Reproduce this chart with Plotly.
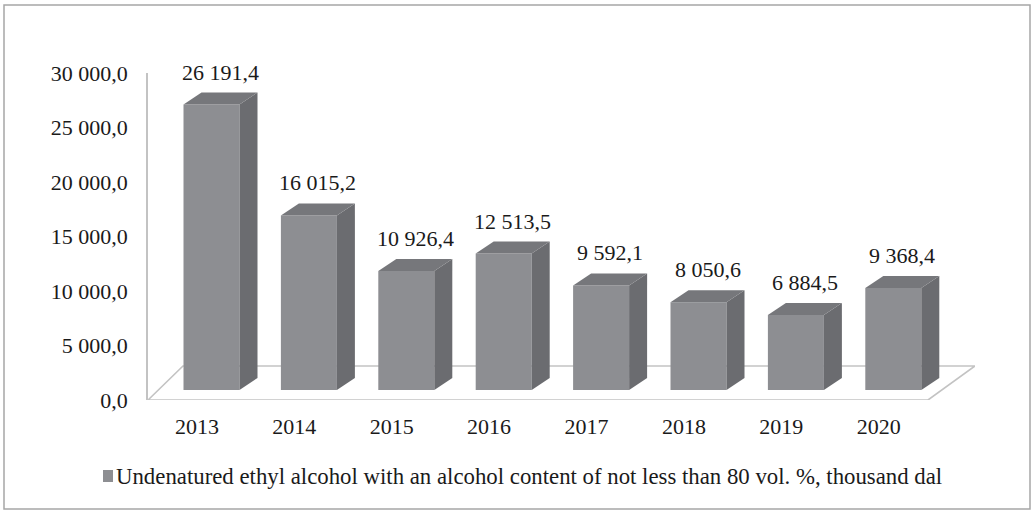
import plotly.graph_objects as go

# ---- data ----
years = ["2013", "2014", "2015", "2016", "2017", "2018", "2019", "2020"]
values = [26191.4, 16015.2, 10926.4, 12513.5, 9592.1, 8050.6, 6884.5, 9368.4]
value_labels = ["26 191,4", "16 015,2", "10 926,4", "12 513,5",
                "9 592,1", "8 050,6", "6 884,5", "9 368,4"]
y_ticks = [0, 5000, 10000, 15000, 20000, 25000, 30000]
y_tick_labels = ["0,0", "5 000,0", "10 000,0", "15 000,0",
                 "20 000,0", "25 000,0", "30 000,0"]
series_name = ("Undenatured ethyl alcohol with an alcohol content of "
               "not less than 80 vol. %, thousand dal")

# ---- layout geometry (pixels) ----
W, H = 1032, 510
L, R, T, B = 148, 57, 73, 110           # plot area: x 148..975, y 73..400
plot_h = H - T - B
pitch = 97.4                             # px between category centres
first_center = 211.5                     # px of first bar front centre
bar_w_px = 56
depth_dx_px, depth_dy_px = 18, 12        # 3-D depth offset of each bar
floor_back_px = 34                       # floor depth (vertical)
floor_left_dx, floor_right_dx = 35, 47
bar_floor_lift_px = 10                   # bars stand behind the front edge

FONT = "Liberation Serif"
FS = 22
TXT = "#1a1a1a"
FRONT, SIDE, TOP = "#8d8e92", "#6b6c70", "#76777b"
FLOOR = "#c3c3c3"

ymax = 30000
s = ymax / plot_h                        # value units per pixel
xmin = (L - first_center) / pitch
xmax = (W - R - first_center) / pitch
bw = bar_w_px / pitch
dx = depth_dx_px / pitch
dy = depth_dy_px * s
y2_lo = -bar_floor_lift_px * s

idx = list(range(len(years)))

fig = go.Figure()
fig.add_trace(go.Bar(
    x=idx, y=values, width=bw, yaxis="y2",
    marker=dict(color=FRONT, line=dict(width=0)),
    name=series_name, showlegend=False, hoverinfo="skip",
))

shapes = []
# floor parallelogram (outline only)
fb = floor_back_px * s
x_fl = xmin
x_fr = xmax - floor_right_dx / pitch
shapes.append(dict(
    type="path", xref="x", yref="y", layer="below",
    path=(f"M{x_fl},0 L{x_fr},0 L{xmax},{fb} "
          f"L{xmin + floor_left_dx / pitch},{fb} Z"),
    line=dict(color=FLOOR, width=1.6), fillcolor="rgba(0,0,0,0)",
))

# side and top faces of each bar
for i, v in zip(idx, values):
    xl, xr = i - bw / 2, i + bw / 2
    shapes.append(dict(
        type="path", xref="x", yref="y2", layer="above",
        path=f"M{xr},0 L{xr + dx},{dy} L{xr + dx},{v + dy} L{xr},{v} Z",
        fillcolor=SIDE, line=dict(width=0),
    ))
    shapes.append(dict(
        type="path", xref="x", yref="y2", layer="above",
        path=f"M{xl},{v} L{xl + dx},{v + dy} L{xr + dx},{v + dy} L{xr},{v} Z",
        fillcolor=TOP, line=dict(width=0),
    ))


def px_to_paper_x(px):
    return (px - L) / (W - L - R)


def px_to_paper_y(py):
    return (H - B - py) / plot_h


# outer frame
shapes.append(dict(
    type="rect", xref="paper", yref="paper",
    x0=px_to_paper_x(4), x1=px_to_paper_x(1030),
    y0=px_to_paper_y(509), y1=px_to_paper_y(5),
    line=dict(color="#a6a6a6", width=1.5), fillcolor="rgba(0,0,0,0)",
    layer="below",
))

# legend key
shapes.append(dict(
    type="rect", xref="paper", yref="paper",
    x0=px_to_paper_x(103), x1=px_to_paper_x(113),
    y0=px_to_paper_y(482), y1=px_to_paper_y(470),
    fillcolor=FRONT, line=dict(width=0),
))

annotations = []
for i, v, lab in zip(idx, values, value_labels):
    annotations.append(dict(
        x=i + dx / 2, y=v + dy, xref="x", yref="y2",
        text=lab, showarrow=False, yanchor="bottom", yshift=6,
        font=dict(family=FONT, size=FS, color=TXT),
    ))

annotations.append(dict(
    x=px_to_paper_x(114), y=px_to_paper_y(476), xref="paper", yref="paper",
    text=series_name, showarrow=False, xanchor="left", yanchor="middle",
    font=dict(family=FONT, size=22.8, color=TXT),
))

fig.update_layout(
    width=W, height=H,
    margin=dict(l=L, r=R, t=T, b=B),
    paper_bgcolor="white", plot_bgcolor="rgba(0,0,0,0)",
    showlegend=False,
    font=dict(family=FONT, size=FS, color=TXT),
    xaxis=dict(
        range=[xmin, xmax], showgrid=False, zeroline=False, showline=False,
        tickmode="array", tickvals=[i - 0.15 for i in idx], ticktext=years,
        ticks="", ticklabelstandoff=11,
        tickfont=dict(family=FONT, size=FS, color=TXT),
    ),
    yaxis=dict(
        range=[0, ymax], showgrid=False, zeroline=False,
        showline=True, linecolor=FLOOR, linewidth=1.6,
        tickmode="array", tickvals=y_ticks, ticktext=y_tick_labels,
        ticks="", ticklabelstandoff=14,
        tickfont=dict(family=FONT, size=FS, color=TXT),
    ),
    yaxis2=dict(
        range=[y2_lo, y2_lo + ymax], overlaying="y", visible=False,
    ),
    shapes=shapes,
    annotations=annotations,
)

fig.write_html("out.html")
